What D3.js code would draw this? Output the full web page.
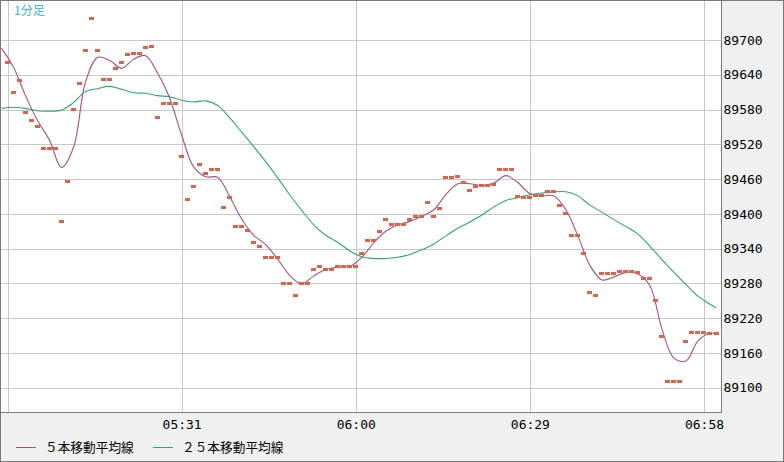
<!DOCTYPE html>
<html><head><meta charset="utf-8">
<script src="https://cdn.jsdelivr.net/npm/d3@7"></script>
<style>
html,body{margin:0;padding:0;background:#f0f0f0;}
svg{display:block;}
</style></head><body>
<svg id="c" width="784" height="462"></svg>
<script>
// ---- data ----
const startTime = "05:02";
const closes = [
 89661,89610,89630,89575,89561,89551,89513,89513,89513,89387,
 89456,89580,89625,89682,89737,89682,89632,89632,89651,89661,
 89675,89677,89677,89687,89689,89566,89591,89591,89591,89499,
 89425,89447,89485,89470,89476,89476,89411,89428,89378,89378,
 89371,89350,89343,89324,89324,89324,89279,89279,89259,89279,
 89279,89304,89309,89304,89304,89309,89309,89309,89309,89331,
 89354,89354,89369,89390,89381,89381,89381,89390,89395,89395,
 89419,89395,89409,89463,89463,89464,89454,89440,89447,89449,
 89449,89451,89476,89476,89476,89430,89428,89428,89431,89431,
 89438,89438,89414,89400,89362,89362,89331,89264,89259,89297,
 89297,89297,89300,89300,89300,89298,89288,89288,89250,89189,
 89110,89110,89110,89179,89196,89195,89195,89193,89193];
// minute offsets (from 05:02) where the moving averages were read
const maOffsets = [-1,1,3,5,7,9,11,13,15,17,19,21,23,25,27,29,31,33,35,37,39,41,43,45,47,49,51,53,55,57,59,61,63,65,67,69,71,73,75,77,79,81,83,85,87,89,91,93,95,97,99,101,103,105,107,109,111,113,115,117,118];
const ma5 = [
 89686,89653,89604,89561,89527,89480,89515,89628,89670,89665,
 89651,89667,89673,89643,89600,89536,89481,89464,89463,89430,
 89391,89363,89347,89322,89294,89279,89293,89304,89308,89309,
 89325,89350,89370,89381,89387,89396,89407,89433,89452,89452,
 89449,89453,89466,89454,89435,89431,89431,89407,89362,89311,
 89286,89291,89299,89296,89276,89201,89151,89146,89181,89194,89193];
const ma25 = [
 89582,89584,89582,89578,89577,89579,89592,89611,89616,89620,
 89615,89609,89608,89604,89602,89596,89593,89595,89587,89566,
 89541,89516,89490,89462,89433,89406,89381,89363,89351,89336,
 89326,89323,89323,89325,89330,89338,89348,89362,89375,89386,
 89398,89412,89423,89428,89433,89436,89438,89438,89431,89415,
 89403,89390,89378,89365,89344,89321,89299,89278,89258,89244,89238];
const yTicks = [89100,89160,89220,89280,89340,89400,89460,89520,89580,89640,89700];
const xTicks = ["05:02","05:31","06:00","06:29","06:58"];
const xLabelled = ["05:31","06:00","06:29","06:58"];
const legendLabels = ["５本移動平均線","２５本移動平均線"];
const periodLabel = "1分足";

// ---- setup ----
const parse = d3.timeParse("%H:%M");
const t0 = parse(startTime);
const tAt = m => d3.timeMinute.offset(t0, m);
const W = 784, H = 462;
const plot = {l:0.5, t:0.5, r:721.5, b:412.5};
const colMA5 = "#a9527f", colMA25 = "#2aa87a", colDot = "#d9634b", colGrid = "#c8c8c8", colBorder = "#7a7a7a";

const x = d3.scaleTime().domain([tAt(0), tAt(118)]).range([7.5, 716]);
const y = d3.scaleLinear().domain([89100, 89700]).range([387.7, 40]);

const svg = d3.select("#c");
svg.append("rect").attr("x",0.5).attr("y",0.5).attr("width",W-1).attr("height",H-1)
  .attr("fill","#f0f0f0").attr("stroke",colBorder);
svg.append("rect").attr("x",plot.l).attr("y",plot.t).attr("width",plot.r-plot.l).attr("height",plot.b-plot.t)
  .attr("fill","#fff").attr("stroke",colBorder);

svg.append("clipPath").attr("id","clip").append("rect")
  .attr("x",1).attr("y",1).attr("width",plot.r-1.5).attr("height",plot.b-1.5);

const g = svg.append("g").attr("clip-path","url(#clip)");
// grid
g.selectAll(".hg").data(yTicks).join("line")
  .attr("x1",1).attr("x2",plot.r)
  .attr("y1",d=>Math.round(y(d))+0.5).attr("y2",d=>Math.round(y(d))+0.5)
  .attr("stroke",colGrid).attr("stroke-width",1);
g.selectAll(".vg").data(xTicks).join("line")
  .attr("y1",1).attr("y2",plot.b)
  .attr("x1",d=>Math.round(x(parse(d)))+0.5).attr("x2",d=>Math.round(x(parse(d)))+0.5)
  .attr("stroke",colGrid).attr("stroke-width",1);

// MA lines
const maData = vals => maOffsets.map((m,i)=>({t:tAt(m), v:vals[i]}));
const line = d3.line().x(d=>x(d.t)).y(d=>y(d.v)).curve(d3.curveCatmullRom.alpha(0.5));
g.append("path").datum(maData(ma25)).attr("d",line)
  .attr("fill","none").attr("stroke",colMA25).attr("stroke-width",1.1);
g.append("path").datum(maData(ma5)).attr("d",line)
  .attr("fill","none").attr("stroke",colMA5).attr("stroke-width",1.1);

// close dots
g.selectAll(".dot").data(closes).join("rect")
  .attr("x",(d,i)=>Math.round(x(tAt(i))-2.5))
  .attr("y",d=>Math.round(y(d)-1.5))
  .attr("width",5).attr("height",3)
  .attr("fill",colDot);

// axes
const yAxis = d3.axisRight(y).tickValues(yTicks).tickSize(0).tickPadding(2).tickFormat(d3.format("d"));
const ya = svg.append("g").attr("transform",`translate(${plot.r},0)`).call(yAxis);
ya.select(".domain").remove();
ya.selectAll("text").attr("font-family","'DejaVu Sans Mono', monospace").attr("font-size",13).attr("fill","#000");

const xAxis = d3.axisBottom(x).tickValues(xLabelled.map(parse)).tickSize(0).tickPadding(8).tickFormat(d3.timeFormat("%H:%M"));
const xa = svg.append("g").attr("transform",`translate(0,${plot.b-0.5})`).call(xAxis);
xa.select(".domain").remove();
xa.selectAll("text").attr("font-family","'DejaVu Sans Mono', monospace").attr("font-size",13).attr("fill","#000");

// period label
svg.append("text").attr("x",14).attr("y",15).text(periodLabel)
  .attr("font-family","'Noto Sans CJK JP', sans-serif").attr("font-size",12).attr("fill","#3ab2e8");

// legend
const legX = [16, 153];
const legCols = [colMA5, colMA25];
legendLabels.forEach((lab,i)=>{
  svg.append("line").attr("x1",legX[i]).attr("x2",legX[i]+20).attr("y1",447.5).attr("y2",447.5)
    .attr("stroke",legCols[i]).attr("stroke-width",1);
  svg.append("text").attr("x",legX[i]+29).attr("y",452).text(lab)
    .attr("font-family","'Noto Sans CJK JP', sans-serif").attr("font-size",12.7).attr("fill","#000");
});
</script>
</body></html>
